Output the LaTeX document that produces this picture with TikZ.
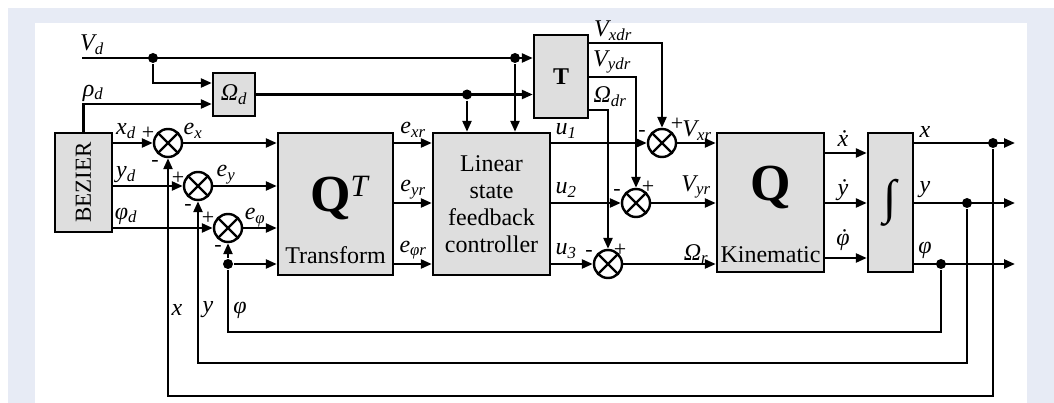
\documentclass[tikz,border=0pt]{standalone}
\usepackage{fontspec}
\usepackage{graphicx}
\setmainfont{Liberation Serif}
\usetikzlibrary{arrows.meta, calc}
\definecolor{panelbg}{HTML}{E7EBF5}
\definecolor{boxfill}{HTML}{DEDEDE}

\begin{document}
\begin{tikzpicture}[x=1pt, y=-1pt, >={Triangle[length=11pt, width=9pt]}, line width=2.4pt]
\tikzset{
    block/.style={draw, rectangle, fill=boxfill, inner sep=0pt},
    sumj/.style={draw, circle, fill=white, minimum size=28pt, inner sep=0pt, path picture={\draw (path picture bounding box.north west) -- (path picture bounding box.south east) (path picture bounding box.south west) -- (path picture bounding box.north east);}},
    jdot/.style={circle, fill, inner sep=0pt, minimum size=10pt},
    lbl/.style={inner sep=0pt, font=\fontsize{24}{26}\selectfont\itshape},
    sgn/.style={inner sep=0pt, font=\fontsize{22}{22}\selectfont},
    txt/.style={inner sep=0pt, font=\fontsize{24}{27}\selectfont, align=center}
}
\useasboundingbox (0,0) rectangle (1054,403);
\fill[panelbg] (8,8) rectangle (1054,403);
\fill[white] (35,23) rectangle (1027,403);

\node[block, minimum width=57pt, minimum height=99pt] (Bezier) at (83.5,182.5) {\rotatebox{90}{\fontsize{23}{23}\selectfont BEZIER}};
\node[block, minimum width=42pt, minimum height=43pt, font=\fontsize{24}{26}\selectfont\itshape] (OmegaD) at (234,94.5) {Ω\textsubscript{d}};
\node[block, minimum width=54pt, minimum height=83pt, font=\fontsize{24}{26}\selectfont\bfseries] (TBox) at (561,76.5) {T};
\node[block, minimum width=115pt, minimum height=142pt] (QT) at (335.5,204) {};
\node[block, txt, minimum width=117pt, minimum height=142pt] (Ctrl) at (491.5,204) {Linear\\state\\feedback\\controller};
\node[block, minimum width=107pt, minimum height=139pt] (Q) at (770.5,202.5) {};
\node[block, minimum width=45pt, minimum height=139pt, font=\fontsize{48}{48}\selectfont] (Int) at (890.5,202.5) {∫};
\node[inner sep=0pt, font=\fontsize{52}{52}\selectfont\bfseries] (QTsym) at (339,198) {Q\raisebox{15pt}{\fontsize{31}{31}\selectfont\mdseries\itshape T}};
\node[txt] (QTname) at (335.5,255) {Transform};
\node[inner sep=0pt, font=\fontsize{52}{52}\selectfont\bfseries] (Qsym) at (770.5,188) {Q};
\node[txt] (Qname) at (770.5,255) {Kinematic};

\node[sumj] (S1) at (168,143) {}; \node[sumj] (S2) at (198,186) {}; \node[sumj] (S3) at (228,228) {};
\node[sumj] (S4) at (662,143) {}; \node[sumj] (S5) at (636,203) {}; \node[sumj] (S6) at (608,264) {};
\node[jdot] (D1) at (153,58) {}; \node[jdot] (D2) at (467,94.5) {}; \node[jdot] (D3) at (515,58) {};
\node[jdot] (DX) at (993,143) {}; \node[jdot] (DY) at (967,203) {}; \node[jdot] (DP) at (941,264) {}; \node[jdot] (DL) at (228,264) {};

\coordinate (R1) at (0,143); \coordinate (R2) at (0,203); \coordinate (R3) at (0,264);
\coordinate (K1) at (0,153); \coordinate (K3) at (0,258);
\coordinate (T1) at (0,43); \coordinate (T2) at (0,77); \coordinate (T3) at (0,110);
\coordinate (W1) at (0,83); \coordinate (W2) at (0,104);
\coordinate (FX) at (0,396); \coordinate (FY) at (0,363); \coordinate (FP) at (0,332);
\coordinate (VdIn) at (82,58); \coordinate (O1) at (1015,143); \coordinate (O2) at (1015,203); \coordinate (O3) at (1015,264);

\draw[->] (VdIn) -- (VdIn -| TBox.west); \draw[->] (D1) |- (OmegaD.west |- W1); \draw[->] (Bezier.north) |- (OmegaD.west |- W2);
\draw[->] (OmegaD.east) -- (OmegaD.east -| TBox.west); \draw[->] (D2) -- (D2 |- Ctrl.north); \draw[->] (D3) -- (D3 |- Ctrl.north);
\draw[->] (TBox.east |- T1) -| (S4); \draw[->] (TBox.east |- T2) -| (S5); \draw[->] (TBox.east |- T3) -| (S6);
\draw[->] (Bezier.east |- S1) -- (S1); \draw[->] (Bezier.east |- S2) -- (S2); \draw[->] (Bezier.east |- S3) -- (S3);
\draw[->] (S1) -- (S1 -| QT.west); \draw[->] (S2) -- (S2 -| QT.west); \draw[->] (S3) -- (S3 -| QT.west);
\draw[->] (DL) -- (DL -| QT.west); \draw[->] (DL) -- (S3);
\draw[->] (QT.east |- R1) -- (Ctrl.west |- R1); \draw[->] (QT.east |- R2) -- (Ctrl.west |- R2); \draw[->] (QT.east |- R3) -- (Ctrl.west |- R3);
\draw[->] (Ctrl.east |- R1) -- (S4); \draw[->] (Ctrl.east |- R2) -- (S5); \draw[->] (Ctrl.east |- R3) -- (S6);
\draw[->] (S4) -- (S4 -| Q.west); \draw[->] (S5) -- (S5 -| Q.west); \draw[->] (S6) -- (S6 -| Q.west);
\draw[->] (Q.east |- K1) -- (Int.west |- K1); \draw[->] (Q.east |- R2) -- (Int.west |- R2); \draw[->] (Q.east |- K3) -- (Int.west |- K3);
\draw[->] (Int.east |- R1) -- (O1); \draw[->] (Int.east |- R2) -- (O2); \draw[->] (Int.east |- R3) -- (O3);
\draw[->] (DX) -- (DX |- FX) -| (S1); \draw[->] (DY) -- (DY |- FY) -| (S2); \draw (DP) -- (DP |- FP) -| (DL);

\node[lbl] (LVd) at (92,45) {V\textsubscript{d}}; \node[lbl] (Lrho) at (93,93) {ρ\textsubscript{d}};
\node[lbl] (Lxd) at (126,131) {x\textsubscript{d}}; \node[lbl] (Lyd) at (126,175) {y\textsubscript{d}}; \node[lbl] (Lpd) at (126,216) {φ\textsubscript{d}};
\node[lbl] (Lex) at (193,131) {e\textsubscript{x}}; \node[lbl] (Ley) at (226,175) {e\textsubscript{y}}; \node[lbl] (Lep) at (255,218) {e\textsubscript{φ}};
\node[lbl] (Lfx) at (177,310) {x}; \node[lbl] (Lfy) at (208,310) {y}; \node[lbl] (Lfp) at (240,310) {φ};
\node[lbl] (Lexr) at (413,130) {e\textsubscript{xr}}; \node[lbl] (Leyr) at (413,190) {e\textsubscript{yr}}; \node[lbl] (Lepr) at (413,250) {e\textsubscript{φr}};
\node[lbl] (Lu1) at (566,131) {u\textsubscript{1}}; \node[lbl] (Lu2) at (566,190) {u\textsubscript{2}}; \node[lbl] (Lu3) at (566,251) {u\textsubscript{3}};
\node[lbl] (Lvxd) at (613,31) {V\textsubscript{xdr}}; \node[lbl] (Lvyd) at (612,62) {V\textsubscript{ydr}}; \node[lbl] (Lwd) at (610,97) {Ω\textsubscript{dr}};
\node[lbl] (Lvx) at (697,131) {V\textsubscript{xr}}; \node[lbl] (Lvy) at (696,187) {V\textsubscript{yr}}; \node[lbl] (Lw) at (696,254) {Ω\textsubscript{r}};
\node[lbl] (Ldx) at (843,139) {\.{x}}; \node[lbl] (Ldy) at (843,190) {\.{y}}; \node[lbl] (Ldp) at (843,240) {\accent"02D9 φ};
\node[lbl] (Lx) at (925,132) {x}; \node[lbl] (Ly) at (925,190) {y}; \node[lbl] (Lp) at (925,250) {φ};

\node[sgn] (P1) at (148,133) {+}; \node[sgn] (M1) at (155,163) {-};
\node[sgn] (P2) at (178,178) {+}; \node[sgn] (M2) at (188,207) {-};
\node[sgn] (P3) at (208,218) {+}; \node[sgn] (M3) at (218,248) {-};
\node[sgn] (M4) at (642,133) {-}; \node[sgn] (P4) at (677,124) {+};
\node[sgn] (M5) at (617,192) {-}; \node[sgn] (P5) at (648,187) {+};
\node[sgn] (M6) at (589,253) {-}; \node[sgn] (P6) at (620,250) {+};
\end{tikzpicture}
\end{document}
